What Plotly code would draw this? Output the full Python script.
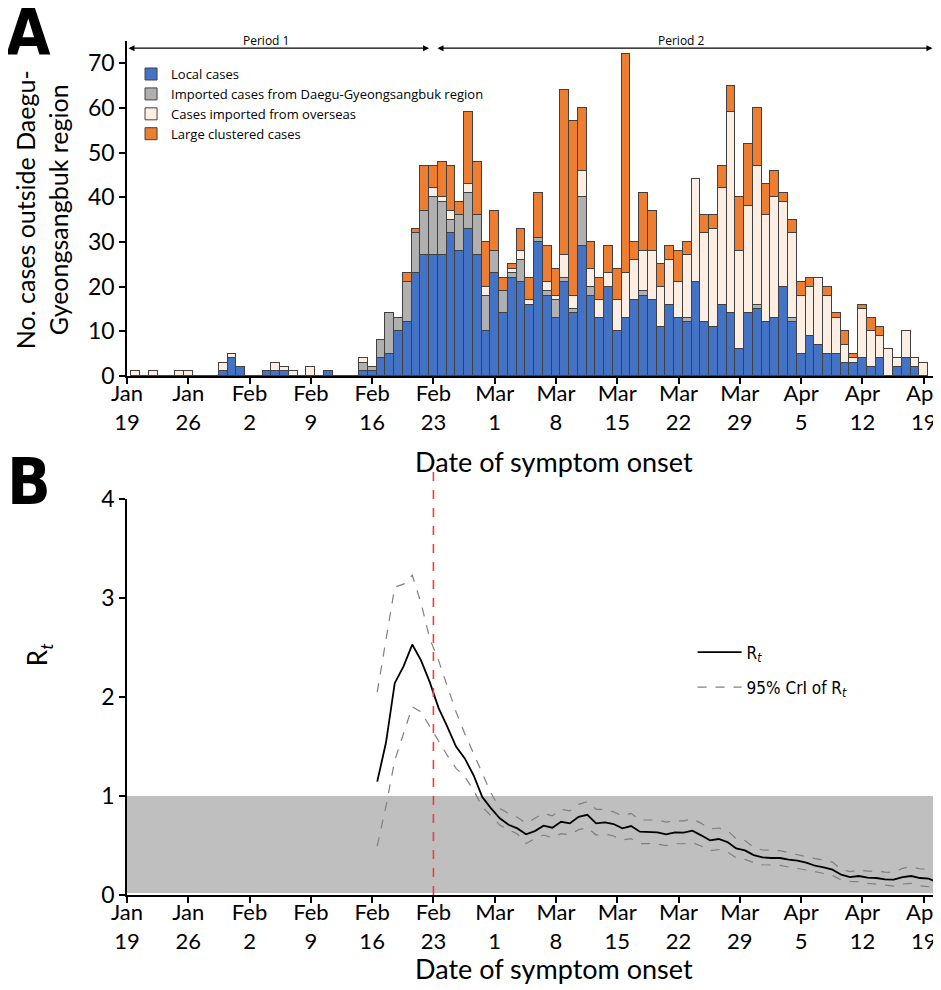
import pandas as pd
import plotly.graph_objects as go

# Daily case counts by date of symptom onset, Jan 20 - Apr 19, 2020
dates = pd.date_range("2020-01-20", "2020-04-19").strftime("%Y-%m-%d").tolist()

local = [0, 0, 0, 0, 0, 0, 0, 0, 0, 0,
         1, 4, 2, 0, 0, 1, 1, 1, 0, 0,
         0, 0, 1, 0, 0, 0, 1, 1, 4, 5,
         10, 12, 23, 27, 27, 27, 32, 28, 33, 27,
         10, 23, 14, 22, 21, 16, 30, 18, 13, 21,
         14, 29, 18, 13, 20, 10, 13, 17, 18, 17,
         11, 16, 13, 12, 21, 12, 11, 16, 14, 6,
         14, 15, 12, 13, 20, 12, 5, 9, 7, 5,
         5, 3, 3, 4, 2, 4, 0, 2, 4, 2, 0]
daegu = [0, 0, 0, 0, 0, 0, 0, 0, 0, 0,
         0, 0, 0, 0, 0, 0, 0, 0, 0, 0,
         0, 0, 0, 0, 0, 0, 2, 1, 4, 9,
         3, 9, 9, 10, 13, 12, 3, 8, 8, 9,
         8, 5, 5, 1, 5, 0, 1, 1, 4, 1,
         1, 11, 2, 0, 0, 0, 0, 0, 1, 0,
         0, 0, 0, 1, 0, 0, 0, 0, 0, 0,
         0, 1, 0, 0, 0, 1, 0, 0, 0, 0,
         0, 0, 0, 0, 0, 0, 0, 0, 0, 0, 0]
overseas = [1, 0, 1, 0, 0, 1, 1, 0, 0, 0,
            2, 1, 0, 0, 0, 0, 2, 1, 1, 0,
            2, 0, 0, 0, 0, 0, 1, 0, 0, 0,
            0, 0, 0, 0, 2, 1, 2, 0, 2, 0,
            2, 0, 0, 1, 2, 1, 0, 2, 1, 5,
            3, 6, 4, 4, 3, 7, 10, 9, 9, 11,
            9, 10, 8, 14, 23, 20, 22, 26, 45, 22,
            24, 31, 24, 27, 19, 19, 13, 11, 15, 13,
            8, 4, 1, 11, 8, 5, 6, 2, 6, 2, 3]
cluster = [0, 0, 0, 0, 0, 0, 0, 0, 0, 0,
           0, 0, 0, 0, 0, 0, 0, 0, 0, 0,
           0, 0, 0, 0, 0, 0, 0, 0, 0, 0,
           0, 2, 1, 10, 5, 8, 10, 3, 16, 12,
           10, 9, 3, 1, 5, 5, 10, 8, 6, 37,
           39, 14, 6, 5, 6, 7, 49, 4, 13, 9,
           5, 3, 7, 3, 0, 4, 3, 5, 6, 12,
           14, 13, 7, 6, 2, 3, 3, 2, 0, 2,
           1, 3, 1, 1, 3, 2, 0, 0, 0, 0, 0]

# Time-varying reproduction number and its 95% CrI
rt_dates = pd.date_range("2020-02-16 14:00", periods=65, freq="D").strftime("%Y-%m-%d %H:%M").tolist()
rt = [1.145, 1.54, 2.14, 2.31, 2.53, 2.37, 2.15, 1.89, 1.70, 1.50,
      1.38, 1.21, 0.99, 0.875, 0.775, 0.71, 0.673, 0.613, 0.646, 0.70,
      0.68, 0.74, 0.724, 0.79, 0.81, 0.724, 0.734, 0.717, 0.673, 0.697,
      0.64, 0.64, 0.633, 0.613, 0.633, 0.63, 0.65, 0.603, 0.552, 0.566,
      0.535, 0.471, 0.451, 0.404, 0.38, 0.374, 0.374, 0.357, 0.347, 0.327,
      0.296, 0.279, 0.256, 0.205, 0.182, 0.192, 0.175, 0.172, 0.158, 0.155,
      0.182, 0.192, 0.172, 0.165, 0.128]
rt_upper = [2.05, 2.58, 3.11, 3.14, 3.23, 2.95, 2.59, 2.37, 2.10, 1.85,
            1.63, 1.43, 1.23, 1.03, 0.875, 0.825, 0.785, 0.724, 0.775, 0.825,
            0.80, 0.866, 0.85, 0.916, 0.943, 0.866, 0.865, 0.84, 0.80, 0.825,
            0.758, 0.758, 0.758, 0.737, 0.75, 0.75, 0.77, 0.724, 0.667, 0.677,
            0.65, 0.57, 0.55, 0.48, 0.455, 0.452, 0.448, 0.427, 0.41, 0.387,
            0.367, 0.354, 0.333, 0.26, 0.236, 0.253, 0.242, 0.242, 0.232, 0.226,
            0.27, 0.286, 0.263, 0.263, 0.219]
rt_lower = [0.495, 0.90, 1.36, 1.63, 1.90, 1.85, 1.70, 1.55, 1.41, 1.28,
            1.195, 1.06, 0.89, 0.80, 0.707, 0.66, 0.616, 0.52, 0.57, 0.606,
            0.58, 0.62, 0.61, 0.66, 0.68, 0.606, 0.616, 0.596, 0.556, 0.57,
            0.52, 0.52, 0.515, 0.50, 0.518, 0.518, 0.53, 0.495, 0.448, 0.46,
            0.434, 0.377, 0.36, 0.327, 0.306, 0.303, 0.30, 0.283, 0.27, 0.253,
            0.236, 0.219, 0.199, 0.152, 0.138, 0.135, 0.118, 0.111, 0.098, 0.091,
            0.111, 0.118, 0.094, 0.084, 0.057]

tick_vals = pd.date_range("2020-01-19", "2020-04-19", freq="7D").strftime("%Y-%m-%d").tolist()
tick_text = ["Jan<br>19", "Jan<br>26", "Feb<br>2", "Feb<br>9", "Feb<br>16", "Feb<br>23",
             "Mar<br>1", "Mar<br>8", "Mar<br>15", "Mar<br>22", "Mar<br>29",
             "Apr<br>5", "Apr<br>12", "Apr<br>19"]

font = "Lato"
narrow = "DejaVu Sans Condensed, Liberation Sans"
day_ms = 86400000
edge = dict(color="#404040", width=1)

fig = go.Figure()

series = [("Local cases", local, "#4472C4"),
          ("Imported cases from Daegu-Gyeongsangbuk region", daegu, "#B0B0B0"),
          ("Cases imported from overseas", overseas, "#FDEEE3"),
          ("Large clustered cases", cluster, "#ED7D31")]
for name, vals, color in series:
    fig.add_trace(go.Bar(x=dates, y=vals, name=name, width=day_ms,
                         marker=dict(color=color, line=edge),
                         xaxis="x", yaxis="y", legend="legend"))

fig.add_trace(go.Scatter(x=rt_dates, y=rt, mode="lines", name="R<sub><i>t</i></sub>",
                         line=dict(color="black", width=1.8), legendgroup="rt",
                         xaxis="x2", yaxis="y2", legend="legend2"))
fig.add_trace(go.Scatter(x=rt_dates, y=rt_upper, mode="lines", name="95% CrI of R<sub><i>t</i></sub>",
                         line=dict(color="#7F7F7F", width=1.2, dash="dash"), legendgroup="cri",
                         xaxis="x2", yaxis="y2", legend="legend2"))
fig.add_trace(go.Scatter(x=rt_dates, y=rt_lower, mode="lines", showlegend=False,
                         line=dict(color="#7F7F7F", width=1.2, dash="dash"), legendgroup="cri",
                         xaxis="x2", yaxis="y2", legend="legend2"))

xr = ["2020-01-19", "2020-04-20 07:00"]
xcommon = dict(type="date", range=xr, tickvals=tick_vals, ticktext=tick_text, automargin=False,
               showline=True, linecolor="black", linewidth=1.5, ticklabeloverflow="allow",
               ticks="outside", ticklen=6, tickcolor="black", tickwidth=1.5, ticklabelstandoff=-9,
               showgrid=False, zeroline=False, tickfont=dict(size=22, color="black"))
ycommon = dict(showline=True, linecolor="black", linewidth=1.5, automargin=False,
               ticks="outside", ticklen=6, tickcolor="black", tickwidth=1.5,
               showgrid=False, zeroline=False, tickfont=dict(size=23, color="black"))

# page has an 8px body margin, so the figure is laid out 8px smaller
fig.update_layout(
    width=933, height=982,
    margin=dict(l=119, r=6, t=0, b=0),
    paper_bgcolor="white", plot_bgcolor="white",
    font=dict(family=font, color="black"),
    barmode="stack", bargap=0,
    xaxis=dict(domain=[0, 1], anchor="y", **xcommon),
    yaxis=dict(domain=[0.6253, 0.9664], anchor="x", range=[0, 75],
               tickvals=[0, 10, 20, 30, 40, 50, 60, 70], **ycommon),
    xaxis2=dict(domain=[0, 1], anchor="y2", **xcommon),
    yaxis2=dict(domain=[0.0967, 0.5], anchor="x2", range=[0, 4],
                tickvals=[0, 1, 2, 3, 4], **ycommon),
    legend=dict(x=0.005, y=0.948, xanchor="left", yanchor="top", traceorder="normal",
                font=dict(family="Open Sans", size=13), bgcolor="rgba(0,0,0,0)"),
    legend2=dict(x=0.70, y=0.362, xanchor="left", yanchor="top", tracegroupgap=10,
                 traceorder="grouped", itemwidth=44,
                 font=dict(family=narrow, size=17),
                 bgcolor="rgba(0,0,0,0)"),
)

# Shaded band R_t < 1 and the onset-period divider
fig.add_shape(type="rect", xref="x2 domain", yref="y2", x0=0, x1=1, y0=0.02, y1=1,
              fillcolor="#BFBFBF", line=dict(width=0), layer="below")
fig.add_shape(type="line", xref="x2", yref="y2 domain", x0="2020-02-23", x1="2020-02-23",
              y0=0, y1=1.1, line=dict(color="#F03C3C", width=1.6, dash="dash"))

# Period arrows
for x0, x1, label, lx in [("2020-01-19", "2020-02-22 12:00", "Period 1", 0.172),
                          ("2020-02-23 07:00", "2020-04-20", "Period 2", 0.686)]:
    fig.add_annotation(x=x1, y=73.4, ax=x0, ay=73.4, xref="x", yref="y", axref="x", ayref="y",
                       text="", showarrow=True, arrowside="end+start", arrowhead=2,
                       arrowsize=1, arrowwidth=1.2, arrowcolor="black")
    fig.add_annotation(x=lx, y=0.9664, xref="paper", yref="paper", text=label, showarrow=False,
                       xanchor="center", yanchor="middle", font=dict(family="Open Sans", size=12))

# Titles and panel letters
def note(x, y, text, size, angle=0, family=None):
    fig.add_annotation(x=x, y=y, xref="paper", yref="paper", text=text, showarrow=False,
                       xanchor="center", yanchor="middle", textangle=angle,
                       font=dict(size=size, family=family or font))

note(-0.105, 0.7943, "No. cases outside Daegu-<br>Gyeongsangbuk region", 25, angle=-90)
note(0.528, 0.5377, "Date of symptom onset", 27)
note(0.528, 0.0214, "Date of symptom onset", 27)
note(-0.110, 0.3411, "R<sub><i>t</i></sub>", 26, angle=-90)
note(-0.1213, 0.975, "<b>A</b>", 64, family="DejaVu Sans Condensed, Open Sans")
note(-0.1213, 0.517, "<b>B</b>", 64, family="DejaVu Sans Condensed, Open Sans")

fig.write_html("out.html")
